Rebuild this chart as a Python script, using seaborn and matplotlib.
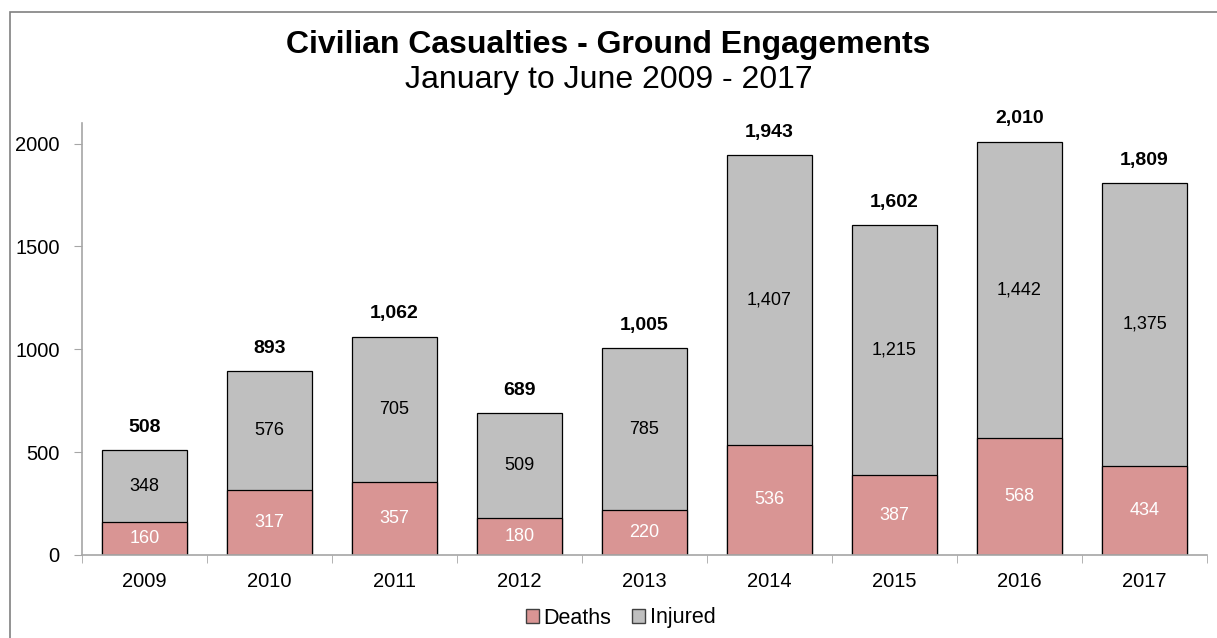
import matplotlib.pyplot as plt
import matplotlib.patches as mpatches
import pandas as pd
import seaborn as sns

years = ['2009', '2010', '2011', '2012', '2013', '2014', '2015', '2016', '2017']
deaths = [160, 317, 357, 180, 220, 536, 387, 568, 434]
injured = [348, 576, 705, 509, 785, 1407, 1215, 1442, 1375]

DEATH_COLOR = '#D99594'
INJ_COLOR = '#BFBFBF'


def show_chart():
    df = pd.DataFrame({'Year': years, 'Deaths': deaths, 'Injured': injured})
    df['Total'] = df['Deaths'] + df['Injured']

    sns.set_style('white')
    plt.rcParams['font.family'] = ['Liberation Sans', 'DejaVu Sans']
    plt.rcParams['text.color'] = 'black'
    plt.rcParams['xtick.color'] = 'black'
    plt.rcParams['ytick.color'] = 'black'

    fig = plt.figure(figsize=(12.17, 6.38), dpi=100)
    ax = fig.add_axes([82 / 1217, 1 - 555 / 638, 1125 / 1217, 432 / 638])

    sns.barplot(data=df, x='Year', y='Total', color=INJ_COLOR, width=0.68,
                edgecolor='black', linewidth=0.9, saturation=1, ax=ax)
    sns.barplot(data=df, x='Year', y='Deaths', color=DEATH_COLOR, width=0.68,
                edgecolor='black', linewidth=0.9, saturation=1, ax=ax)

    for i, row in df.iterrows():
        ax.text(i, row['Deaths'] / 2, f"{row['Deaths']:,}", ha='center', va='center',
                color='white', fontsize=13)
        ax.text(i, row['Deaths'] + row['Injured'] / 2, f"{row['Injured']:,}", ha='center',
                va='center', color='black', fontsize=13)
        ax.text(i, row['Total'] + 110, f"{row['Total']:,}", ha='center', va='center',
                color='black', fontsize=14, fontweight='bold')

    ax.set_xlim(-0.5, len(years) - 0.5)
    ax.set_ylim(0, 2100)
    ax.set_yticks([0, 500, 1000, 1500, 2000])
    ax.set_xlabel('')
    ax.set_ylabel('')
    ax.tick_params(axis='y', labelsize=14.5, length=6, color='#A6A6A6', labelcolor='black',
                   direction='out', left=True, pad=10)
    ax.set_xticks(range(len(years)))
    ax.set_xticklabels(years, fontsize=14.5)
    ax.tick_params(axis='x', length=0, pad=12, labelcolor='black')
    ax.set_xticks([i - 0.5 for i in range(len(years) + 1)], minor=True)
    ax.tick_params(axis='x', which='minor', length=6, color='#A6A6A6', direction='out',
                   bottom=True)
    for s in ['top', 'right']:
        ax.spines[s].set_visible(False)
    for s in ['left', 'bottom']:
        ax.spines[s].set_color('#A6A6A6')
        ax.spines[s].set_linewidth(1.2)

    fig.text(0.5, 1 - 45 / 638, 'Civilian Casualties - Ground Engagements', ha='center',
             va='center', fontsize=23, fontweight='bold', color='black')
    fig.text(0.5, 1 - 80 / 638, 'January to June 2009 - 2017', ha='center', va='center',
             fontsize=23, color='black')

    handles = [mpatches.Patch(facecolor=DEATH_COLOR, edgecolor='#404040', label='Deaths'),
               mpatches.Patch(facecolor=INJ_COLOR, edgecolor='#404040', label='Injured')]
    fig.legend(handles=handles, loc='center', bbox_to_anchor=(0.51, 1 - 618 / 638), ncol=2,
               frameon=False, fontsize=15.5, handlelength=0.6, handleheight=0.6,
               handletextpad=0.2, columnspacing=1.0)

    frame = mpatches.Rectangle((10 / 1217, -0.1), 1.2, 1 - 12 / 638 + 0.1,
                               transform=fig.transFigure, fill=False,
                               edgecolor='#808080', linewidth=1.2)
    fig.patches.append(frame)

    fig.savefig('out.png', dpi=100)


if __name__ == '__main__':
    show_chart()
